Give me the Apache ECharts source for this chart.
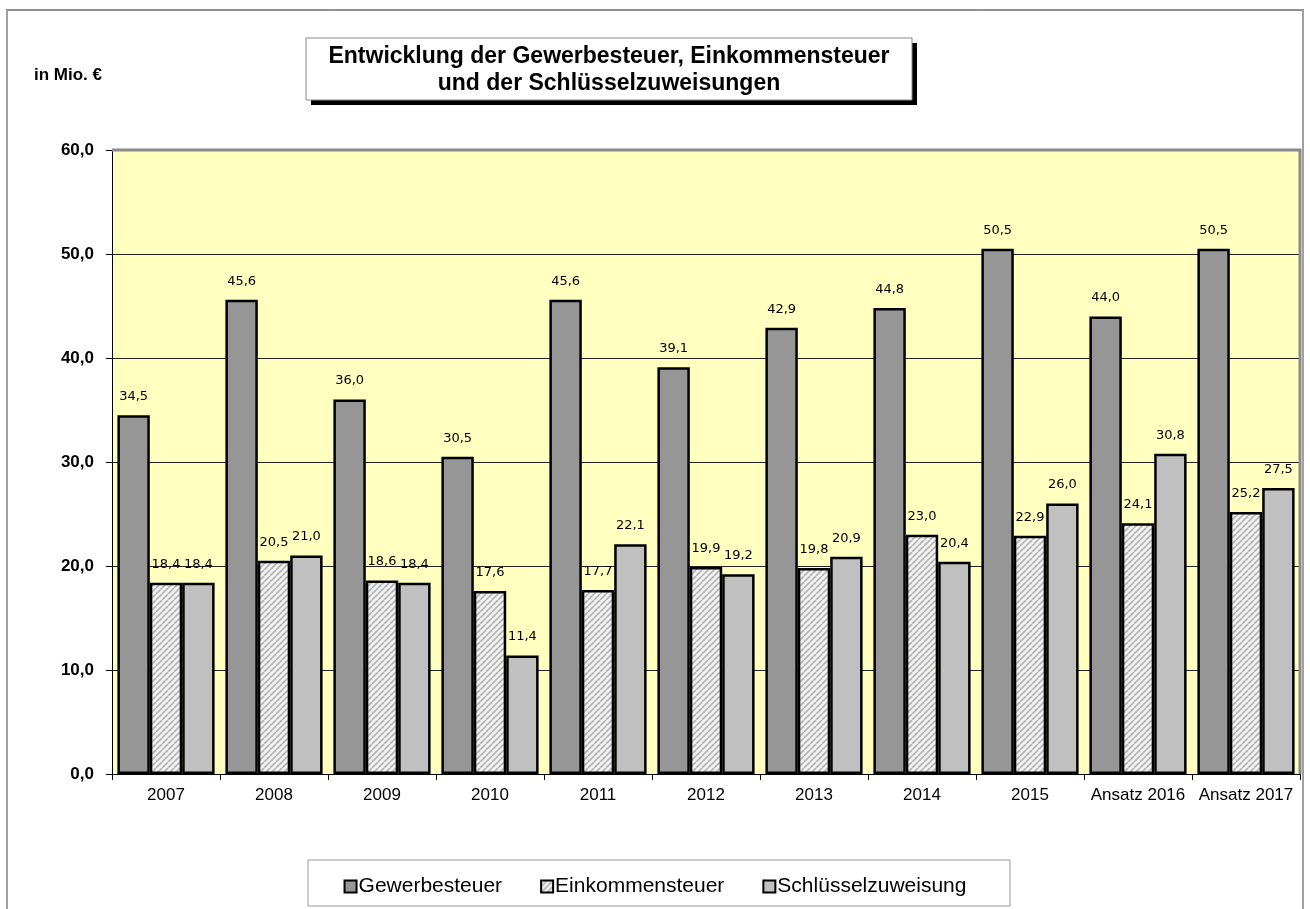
<!DOCTYPE html>
<html>
<head>
<meta charset="utf-8">
<script src="https://cdn.jsdelivr.net/npm/echarts@6/dist/echarts.min.js"></script>
<style>
  html, body { margin: 0; padding: 0; background: #fff; }
  #chart { width: 1310px; height: 909px; }
</style>
</head>
<body>
<div id="chart"></div>
<script>
// Kategorien (Jahre) und Werte in Mio. €
const categories = ['2007', '2008', '2009', '2010', '2011', '2012', '2013', '2014', '2015', 'Ansatz 2016', 'Ansatz 2017'];
const gewerbesteuer = [34.5, 45.6, 36.0, 30.5, 45.6, 39.1, 42.9, 44.8, 50.5, 44.0, 50.5];
const einkommensteuer = [18.4, 20.5, 18.6, 17.6, 17.7, 19.9, 19.8, 23.0, 22.9, 24.1, 25.2];
const schluesselzuweisung = [18.4, 21.0, 18.4, 11.4, 22.1, 19.2, 20.9, 20.4, 26.0, 30.8, 27.5];
const yTicks = [0, 10, 20, 30, 40, 50, 60];

const fmt = v => v.toFixed(1).replace('.', ',');

// schraffiertes Füllmuster für die Einkommensteuer
function hatch() {
  const c = document.createElement('canvas');
  c.width = 6; c.height = 6;
  const g = c.getContext('2d');
  g.fillStyle = '#f2f2f2';
  g.fillRect(0, 0, 6, 6);
  g.strokeStyle = '#b4b4b4';
  g.lineWidth = 1.6;
  for (let k = -6; k <= 12; k += 6) {
    g.beginPath();
    g.moveTo(k, 6);
    g.lineTo(k + 6, 0);
    g.stroke();
  }
  return c;
}
const hatchFill = { image: hatch(), repeat: 'repeat' };

const labelStyle = {
  show: true,
  position: 'top',
  distance: 12,
  fontFamily: 'DejaVu Sans',
  fontSize: 13,
  color: '#000',
  formatter: p => fmt(p.value)
};

function barSeries(name, data, color) {
  return {
    name, type: 'bar', data,
    barGap: '0%',
    barCategoryGap: '10%',
    itemStyle: { color, borderColor: '#000', borderWidth: 2.5 },
    label: labelStyle,
    emphasis: { disabled: true }
  };
}

const chart = echarts.init(document.getElementById('chart'), null, { renderer: 'canvas' });
chart.setOption({
  animation: false,
  backgroundColor: '#fff',
  grid: {
    left: 112, right: 10, top: 150, bottom: 135,
    show: true,
    backgroundColor: '#ffffc0',
    borderWidth: 0
  },
  xAxis: {
    type: 'category',
    data: categories,
    axisLine: { lineStyle: { color: '#000', width: 1 } },
    axisTick: { show: true, length: 6, lineStyle: { color: '#000' } },
    axisLabel: { interval: 0, fontFamily: 'Liberation Sans', fontSize: 17, color: '#000', margin: 13 }
  },
  yAxis: {
    type: 'value',
    min: yTicks[0],
    max: yTicks[yTicks.length - 1],
    interval: 10,
    axisLine: { show: true, lineStyle: { color: '#000', width: 1 } },
    axisTick: { show: true, length: 6, lineStyle: { color: '#000' } },
    axisLabel: {
      fontFamily: 'Liberation Sans', fontSize: 17, fontWeight: 'bold', color: '#000',
      margin: 18, formatter: v => fmt(v)
    },
    splitLine: { lineStyle: { color: '#222', width: 1 } }
  },
  legend: {
    left: 'center',
    top: 871,
    itemGap: 38,
    itemWidth: 12,
    itemHeight: 12,
    icon: 'rect',
    itemStyle: { borderColor: '#000', borderWidth: 2 },
    textStyle: { fontFamily: 'Liberation Sans', fontSize: 21, color: '#000', padding: [0, 0, 0, -3] },
    data: ['Gewerbesteuer', 'Einkommensteuer', 'Schlüsselzuweisung']
  },
  graphic: [
    // äußerer Rahmen
    { type: 'line', shape: { x1: 6, y1: 10, x2: 1304, y2: 10 }, style: { stroke: '#222', lineWidth: 1 }, silent: true },
    { type: 'line', shape: { x1: 7, y1: 10, x2: 7, y2: 909 }, style: { stroke: '#a0a0a0', lineWidth: 2 }, silent: true },
    { type: 'line', shape: { x1: 1303, y1: 10, x2: 1303, y2: 909 }, style: { stroke: '#a0a0a0', lineWidth: 2 }, silent: true },
    // Rahmen der Zeichenfläche oben und rechts
    { type: 'polyline', z: 100, shape: { points: [[112, 150], [1300, 150], [1300, 774]] }, style: { stroke: '#8a8a8a', lineWidth: 3, fill: null }, silent: true },
    // Einheit
    { type: 'text', left: 34, top: 67, style: { text: 'in Mio. €', font: 'bold 17px "Liberation Sans"', fill: '#000' } },
    // Titelkasten mit Schatten
    { type: 'rect', shape: { x: 311, y: 43, width: 606, height: 62 }, style: { fill: '#000' }, silent: true },
    { type: 'rect', shape: { x: 306, y: 38, width: 606, height: 62 }, style: { fill: '#fff', stroke: '#888', lineWidth: 1 }, silent: true },
    { type: 'text', x: 609, y: 70, style: {
        text: 'Entwicklung der Gewerbesteuer, Einkommensteuer\nund der Schlüsselzuweisungen',
        font: 'bold 23px "Liberation Sans"', fill: '#000', align: 'center', verticalAlign: 'middle', lineHeight: 27
      } },
    // Legendenkasten
    { type: 'rect', z: -1, shape: { x: 308, y: 860, width: 702, height: 46 }, style: { fill: '#fff', stroke: '#999', lineWidth: 1 }, silent: true }
  ],
  series: [
    barSeries('Gewerbesteuer', gewerbesteuer, '#969696'),
    barSeries('Einkommensteuer', einkommensteuer, hatchFill),
    barSeries('Schlüsselzuweisung', schluesselzuweisung, '#c0c0c0')
  ]
});
</script>
</body>
</html>
